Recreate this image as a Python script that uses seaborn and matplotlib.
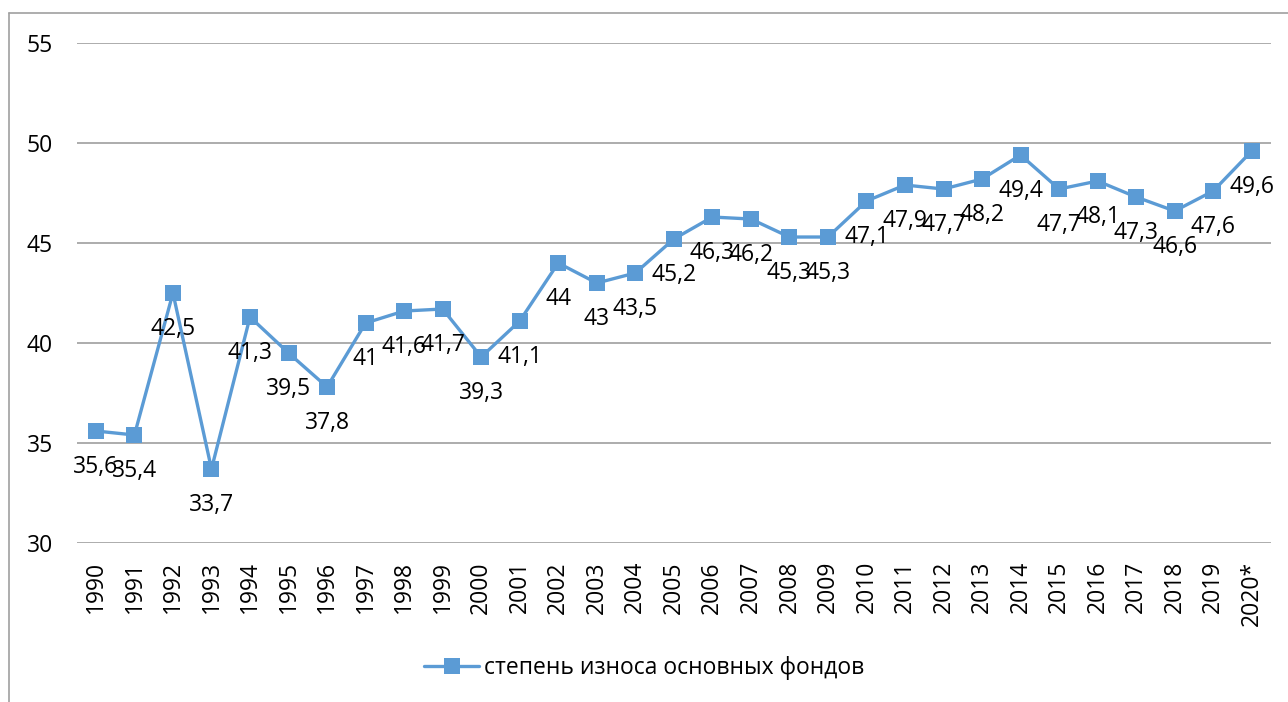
import matplotlib
matplotlib.use("Agg")
import matplotlib.pyplot as plt
import seaborn as sns
import pandas as pd
from matplotlib.lines import Line2D

years = ["1990", "1991", "1992", "1993", "1994", "1995", "1996", "1997", "1998", "1999",
         "2000", "2001", "2002", "2003", "2004", "2005", "2006", "2007", "2008", "2009",
         "2010", "2011", "2012", "2013", "2014", "2015", "2016", "2017", "2018", "2019", "2020*"]
values = [35.6, 35.4, 42.5, 33.7, 41.3, 39.5, 37.8, 41.0, 41.6, 41.7,
          39.3, 41.1, 44.0, 43.0, 43.5, 45.2, 46.3, 46.2, 45.3, 45.3,
          47.1, 47.9, 47.7, 48.2, 49.4, 47.7, 48.1, 47.3, 46.6, 47.6, 49.6]
series_name = "степень износа основных фондов"
y_ticks = [30, 35, 40, 45, 50, 55]

sns.set_theme(style="white")
plt.rcParams['font.family'] = ['Open Sans', 'DejaVu Sans']
plt.rcParams['text.color'] = 'black'

color = "#5B9BD5"
df = pd.DataFrame({"year": years, "value": values})

fig = plt.figure(figsize=(12.88, 7.02), dpi=100)
ax = fig.add_axes([0.0595, 0.2265, 0.9273, 0.7122])

sns.lineplot(data=df, x="year", y="value", ax=ax, color=color, linewidth=2.4,
             marker="s", markersize=11, markeredgewidth=0, sort=False,
             label=series_name, legend=False)

ax.set_ylim(30, 55)
ax.set_xlim(-0.5, len(years) - 0.5)
ax.set_yticks(y_ticks)
ax.set_xticks(range(len(years)))
ax.set_xticklabels(years, rotation=90)
ax.tick_params(axis="both", length=0, labelsize=16.5, colors="black")
ax.tick_params(axis="y", pad=17)
ax.tick_params(axis="x", pad=13)
ax.set_xlabel("")
ax.set_ylabel("")
for s in ax.spines.values():
    s.set_visible(False)
ax.yaxis.grid(True, color="#A6A6A6", linewidth=1.3)
ax.xaxis.grid(False)

for i, v in enumerate(values):
    txt = f"{v:g}".replace(".", ",")
    ax.annotate(txt, (i, v), xytext=(0, -26), textcoords="offset points",
                ha="center", va="center", fontsize=16.5, color="black")

handle = Line2D([], [], color=color, linewidth=2.4, marker="s", markersize=11,
                markeredgewidth=0)
fig.legend([handle], [series_name], loc="center", bbox_to_anchor=(0.5, 0.048),
           frameon=False, fontsize=16.5, handlelength=2.4, handletextpad=0.2)

# outer chart border (left and top visible)
fig.add_artist(Line2D([0.007, 0.007], [0.0, 0.9815], transform=fig.transFigure,
                      color="#A0A0A0", linewidth=1.2))
fig.add_artist(Line2D([0.007, 1.0], [0.9815, 0.9815], transform=fig.transFigure,
                      color="#A0A0A0", linewidth=1.2))

fig.savefig("out.png", dpi=100)
